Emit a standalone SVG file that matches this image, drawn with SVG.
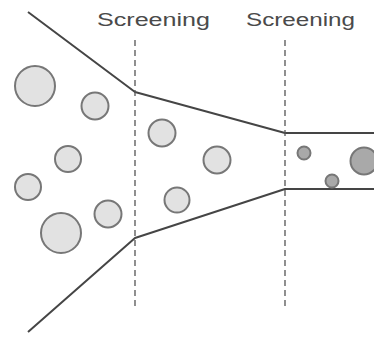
<svg xmlns="http://www.w3.org/2000/svg" width="374" height="341" viewBox="0 0 374 341">
<style>
.wall{fill:none;stroke:#454545;stroke-width:2;stroke-linejoin:round}
.dash{fill:none;stroke:#555;stroke-width:1.3;stroke-dasharray:6,4}
.lt{fill:#e2e2e2;stroke:#777;stroke-width:2}
.dk{fill:#a9a9a9;stroke:#777;stroke-width:2}
.lbl{font-family:"Liberation Sans",Arial,sans-serif;font-size:18px;fill:#4a4a4a}
</style>
<rect width="374" height="341" fill="#fff"/>
<g id="connectors">
<polyline class="wall" points="28,12 135,92 285,133 374,133"/>
<polyline class="wall" points="28,332 135,238 285,189 374,189"/>
<line class="dash" x1="135" y1="40" x2="135" y2="306"/>
<line class="dash" x1="285" y1="40" x2="285" y2="306"/>
</g>
<g id="label1"><text class="lbl" x="97" y="25.5" textLength="113" lengthAdjust="spacingAndGlyphs">Screening</text></g>
<g id="label2"><text class="lbl" x="246" y="25.5" textLength="109" lengthAdjust="spacingAndGlyphs">Screening</text></g>
<g id="particles">
<circle class="lt" cx="35" cy="86" r="20"/>
<circle class="lt" cx="95" cy="106" r="13.5"/>
<circle class="lt" cx="68" cy="159" r="13"/>
<circle class="lt" cx="28" cy="187" r="13"/>
<circle class="lt" cx="61" cy="233" r="20"/>
<circle class="lt" cx="108" cy="214" r="13.5"/>
<circle class="lt" cx="162" cy="133" r="13.5"/>
<circle class="lt" cx="217" cy="160" r="13.5"/>
<circle class="lt" cx="177" cy="200" r="12.5"/>
<circle class="dk" cx="304" cy="153" r="6.5"/>
<circle class="dk" cx="332" cy="181" r="6.5"/>
<circle class="dk" cx="364" cy="161" r="13.5"/>
</g>
</svg>
